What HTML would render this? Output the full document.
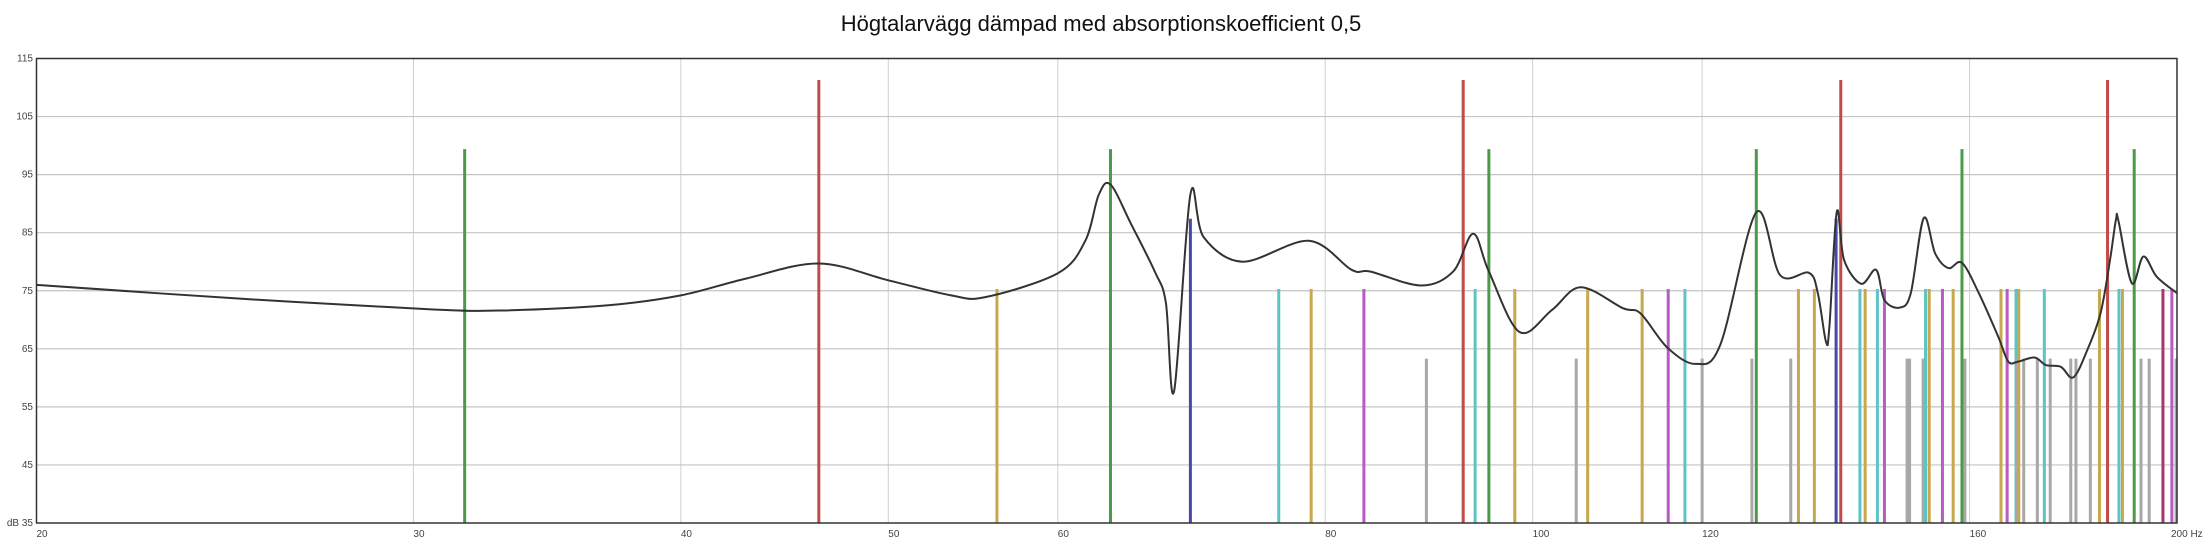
<!DOCTYPE html>
<html><head><meta charset="utf-8"><style>
html,body{margin:0;padding:0;background:#fff;}
svg{display:block;font-family:"Liberation Sans",Arial,sans-serif;}
</style></head><body>
<svg id="chart" width="2204" height="540" viewBox="0 0 2204 540" xmlns="http://www.w3.org/2000/svg">
<text x="1101" y="31" text-anchor="middle" font-size="22" fill="#111">Högtalarvägg dämpad med absorptionskoefficient 0,5</text>
<g id="grid"></g>
<g id="modes"></g>
<g id="curve"></g>
<rect x="36.5" y="58.5" width="2140.5" height="464.5" fill="none" stroke="#333" stroke-width="1.5"/>
<g id="labels"></g>
</svg>
<script>
const xTicks=[20,30,40,50,60,80,100,120,160,200];
const xTickLabels=["20","30","40","50","60","80","100","120","160","200 Hz"];
const yTicks=[35,45,55,65,75,85,95,105,115];
const yTickLabels=["dB 35","45","55","65","75","85","95","105","115"];
// room modes: frequency, level, type
const modeFreqs=[31.7,46.4,56.2,63.5,69.2,76.1,78.8,83.4,89.2,92.8,94.0,95.4,98.1,104.8,106.1,112.5,115.7,117.8,120.0,126.6,127.2,132.0,133.1,135.4,138.6,139.3,142.2,143.0,144.9,146.0,149.6,150.0,152.2,152.6,153.2,155.4,157.2,158.7,159.2,165.5,166.6,168.2,168.3,168.7,169.6,172.1,173.4,174.5,178.4,179.4,182.2,184.0,185.6,187.9,188.6,191.0,192.4,194.1,197.0,198.9,199.8];
const modeLevels=[99.4,111.3,75.3,99.4,87.4,75.3,75.3,75.3,63.3,111.3,75.3,99.4,75.3,63.3,75.3,75.3,75.3,75.3,63.3,63.3,99.4,63.3,75.3,75.3,87.4,111.3,75.3,75.3,75.3,75.3,63.3,63.3,63.3,75.3,75.3,75.3,75.3,99.4,63.3,75.3,75.3,75.3,63.3,75.3,63.3,63.3,75.3,63.3,63.3,63.3,63.3,75.3,111.3,75.3,75.3,99.4,63.3,63.3,75.3,75.3,63.3];
const modeTypes=["g","r","y","g","b","c","y","m","k","r","c","g","y","k","y","y","m","c","k","k","g","k","y","y","b","r","c","y","c","m","k","k","k","c","y","m","y","g","k","y","m","c","k","y","k","k","c","k","k","k","k","y","r","c","y","g","k","k","d","m","k"];
// response curve
const curveFreqs=[20,25,30.5,33.0,37,40,42.9,46.4,50,53.5,55.5,60,61.8,62.7,63.5,64.9,66.6,67.4,68.0,69.2,70.2,73.2,78.6,82.3,84.0,88.7,91.8,93.8,95.4,98.6,102.1,105.3,110.2,112.3,115.6,119.2,122.4,127.2,130.5,134.6,135.9,137.1,137.6,138.7,139.8,142.4,144.7,146.0,148.4,150.2,152.3,154.2,156.4,158.7,161.6,165.0,166.8,168.6,171.6,173.7,176.5,178.9,181.6,184.2,186.1,187.3,187.8,190.5,192.9,195.7,200];
const curveDb=[76.0,73.6,71.8,71.6,72.5,74.2,77.1,79.7,76.8,74.2,73.9,78.0,83.6,91.5,93.3,86.6,78.3,72.9,57.7,91.6,84.2,80.0,83.6,78.6,78.3,75.9,78.3,84.8,78.3,67.9,71.7,75.6,72.0,71.1,65.2,62.4,65.8,88.5,77.7,78.1,74.6,66.2,68.8,88.6,80.3,76.2,78.6,73.4,72.1,74.6,87.5,81.4,78.9,79.8,74.6,67.1,62.8,62.8,63.5,62.2,61.9,60.1,64.8,71.1,80.3,87.3,87.0,76.3,80.9,77.4,74.6];

const L=36.5,R=2177,T=58.5,B=523;
function xs(f){return L+(R-L)*Math.log10(f/20);}
function ys(v){return B-(v-35)*(B-T)/80;}
const NS="http://www.w3.org/2000/svg";
const colors={r:"#c24a48",g:"#4a9a48",y:"#c8a84c",c:"#5cc4c4",m:"#b65cc4",b:"#4848aa",k:"#a8a8a8",d:"#a83470"};
const typeNames={r:"red",g:"green",y:"yellow",c:"cyan",m:"magenta",b:"blue",k:"gray",d:"crimson"};
function mk(tag,attrs,parent){const e=document.createElementNS(NS,tag);for(const k in attrs)e.setAttribute(k,attrs[k]);parent.appendChild(e);return e;}
const grid=document.getElementById('grid'),labels=document.getElementById('labels');
xTicks.forEach((t,i)=>{
  const ln=mk('line',{x1:xs(t),x2:xs(t),y1:T,y2:B,stroke:'#cfcfcf','stroke-width':1},grid);
  
  
  const last=i===xTicks.length-1;
  const tx=mk('text',{x:last?xs(t)-6:xs(t),y:537,'font-size':10,fill:'#444','text-anchor':'start'},labels);
  tx.textContent=xTickLabels[i];
  
  
});
yTicks.forEach((t,i)=>{
  if(i>0&&i<yTicks.length-1){
    const ln=mk('line',{x1:L,x2:R,y1:ys(t),y2:ys(t),stroke:'#c4c4c4','stroke-width':1.2},grid);
    
    
  }
  const tx=mk('text',{x:33,y:ys(t)+3,'font-size':10,fill:'#444','text-anchor':'end'},labels);
  tx.textContent=yTickLabels[i];
  
  
});
const modes=document.getElementById('modes');
modeFreqs.forEach((f,i)=>{
  const ln=mk('line',{x1:xs(f),x2:xs(f),y1:ys(modeLevels[i]),y2:B,stroke:colors[modeTypes[i]],'stroke-width':3},modes);
  
  
});
const pts=curveFreqs.map((f,i)=>[xs(f),ys(curveDb[i])]);
let d='M'+pts[0][0].toFixed(1)+','+pts[0][1].toFixed(1);
for(let i=0;i<pts.length-1;i++){
  const p0=pts[Math.max(0,i-1)],p1=pts[i],p2=pts[i+1],p3=pts[Math.min(pts.length-1,i+2)];
  const t=0.5/3;
  const c1=[p1[0]+(p2[0]-p0[0])*t,p1[1]+(p2[1]-p0[1])*t];
  const c2=[p2[0]-(p3[0]-p1[0])*t,p2[1]-(p3[1]-p1[1])*t];
  d+=' C'+c1[0].toFixed(1)+','+c1[1].toFixed(1)+' '+c2[0].toFixed(1)+','+c2[1].toFixed(1)+' '+p2[0].toFixed(1)+','+p2[1].toFixed(1);
}
const path=mk('path',{d:d,fill:'none',stroke:'#333','stroke-width':2},document.getElementById('curve'));


</script>
</body></html>
